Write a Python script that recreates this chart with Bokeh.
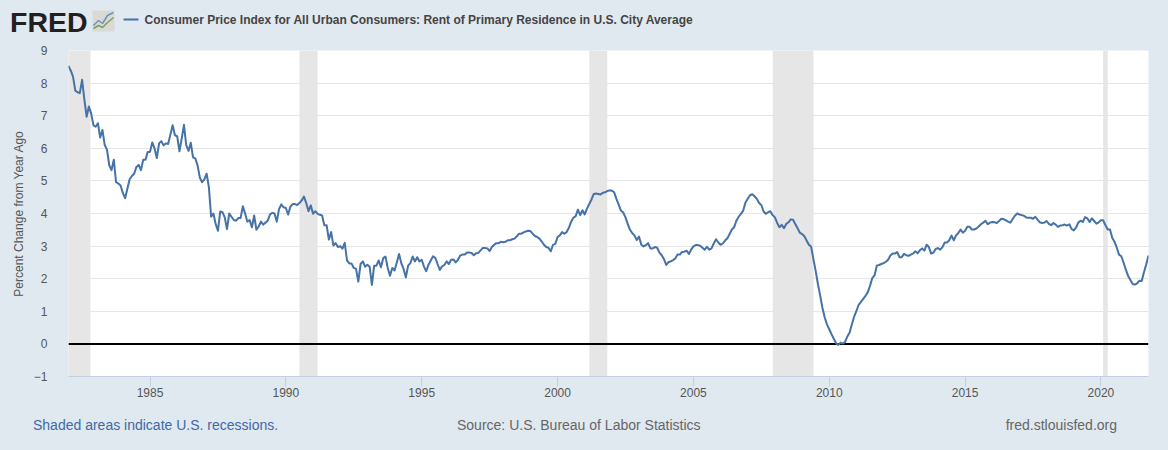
from bokeh.plotting import figure
from bokeh.layouts import column
from bokeh.models import FixedTicker, Range1d, ColumnDataSource
from bokeh.core.properties import value
from bokeh.embed import file_html
from bokeh.resources import INLINE

TITLE = "Consumer Price Index for All Urban Consumers: Rent of Primary Residence in U.S. City Average"
Y_LABEL = "Percent Change from Year Ago"
FOOT_LEFT = "Shaded areas indicate U.S. recessions."
FOOT_MID = "Source: U.S. Bureau of Labor Statistics"
FOOT_RIGHT = "fred.stlouisfed.org"

first_year = 1982
# percent change from year ago, monthly, one row per year
rent_yoy = [
    8.53,8.38,8.20,7.77,7.72,7.69,8.10,7.50,6.97,7.28,7.07,6.71,  # 1982
    6.66,6.77,6.33,6.56,6.10,5.96,5.48,5.33,5.65,4.96,4.92,4.86,  # 1983
    4.63,4.47,4.76,5.05,5.15,5.22,5.43,5.49,5.33,5.65,5.65,5.89,  # 1984
    5.89,6.18,6.00,5.70,6.15,6.22,6.09,6.15,6.13,6.42,6.71,6.40,  # 1985
    6.37,5.91,6.30,6.72,6.10,5.92,6.17,5.72,5.69,5.48,5.10,4.96,  # 1986
    5.05,5.22,4.81,3.90,4.00,3.68,3.47,4.06,4.04,3.88,3.52,4.00,  # 1987
    3.90,3.80,3.78,3.86,3.86,4.22,4.00,3.75,3.80,3.58,3.94,3.50,  # 1988
    3.60,3.75,3.66,3.72,3.78,3.97,4.02,4.00,3.75,4.14,4.28,4.19,  # 1989
    4.17,3.97,4.21,4.29,4.29,4.26,4.32,4.40,4.52,4.32,4.07,4.25,  # 1990
    3.99,4.07,3.99,3.96,3.94,3.64,3.64,3.20,3.43,3.02,3.09,2.97,  # 1991
    3.00,2.92,3.10,2.56,2.47,2.47,2.33,2.30,1.91,2.45,2.53,2.37,  # 1992
    2.43,2.37,1.81,2.40,2.40,2.56,2.35,2.63,2.68,2.33,2.09,2.33,  # 1993
    2.25,2.50,2.76,2.47,2.30,2.04,2.40,2.48,2.68,2.53,2.66,2.53,  # 1994
    2.58,2.37,2.23,2.43,2.56,2.69,2.64,2.45,2.27,2.38,2.42,2.53,  # 1995
    2.45,2.58,2.59,2.50,2.58,2.71,2.74,2.74,2.80,2.80,2.79,2.72,  # 1996
    2.78,2.79,2.87,2.94,2.94,2.93,2.85,2.97,3.04,3.09,3.09,3.13,  # 1997
    3.12,3.13,3.18,3.18,3.21,3.23,3.30,3.38,3.38,3.42,3.45,3.47,  # 1998
    3.46,3.38,3.31,3.28,3.23,3.14,3.04,2.97,2.95,2.84,3.04,3.07,  # 1999
    3.28,3.33,3.43,3.38,3.43,3.56,3.75,3.87,3.92,4.12,3.95,4.10,  # 2000
    3.97,4.15,4.29,4.43,4.60,4.61,4.60,4.58,4.64,4.65,4.69,4.71,  # 2001
    4.70,4.65,4.45,4.27,4.09,4.03,3.88,3.68,3.50,3.40,3.32,3.19,  # 2002
    3.29,3.04,2.99,3.03,3.09,2.93,2.93,2.97,2.95,2.80,2.72,2.60,  # 2003
    2.42,2.51,2.53,2.57,2.62,2.74,2.74,2.82,2.83,2.86,2.76,2.89,  # 2004
    2.99,3.03,3.03,3.01,2.95,2.89,2.98,2.89,2.93,3.08,3.21,3.11,  # 2005
    3.04,3.08,3.17,3.24,3.37,3.51,3.58,3.78,3.90,3.99,4.09,4.34,  # 2006
    4.45,4.56,4.59,4.53,4.45,4.32,4.26,4.06,3.99,4.04,4.07,3.95,  # 2007
    3.88,3.71,3.58,3.65,3.55,3.68,3.73,3.82,3.81,3.68,3.55,3.41,  # 2008
    3.37,3.30,3.17,3.04,2.98,2.60,2.24,1.83,1.48,1.10,0.81,0.60,  # 2009
    0.45,0.30,0.16,0.02,-0.03,0.04,0.01,0.06,0.23,0.35,0.60,0.84, # 2010
    1.01,1.20,1.29,1.38,1.47,1.58,1.78,2.02,2.10,2.40,2.42,2.45,  # 2011
    2.48,2.52,2.58,2.71,2.77,2.77,2.82,2.66,2.66,2.76,2.72,2.70,  # 2012
    2.74,2.77,2.84,2.78,2.87,2.93,2.86,3.04,2.97,2.77,2.80,2.91,  # 2013
    2.94,2.89,2.97,3.11,3.11,3.18,3.32,3.18,3.33,3.40,3.51,3.41,  # 2014
    3.47,3.59,3.59,3.51,3.51,3.54,3.60,3.67,3.72,3.78,3.67,3.72,  # 2015
    3.74,3.73,3.71,3.77,3.84,3.83,3.79,3.75,3.72,3.83,3.93,4.00,  # 2016
    3.97,3.95,3.93,3.88,3.87,3.87,3.84,3.90,3.81,3.73,3.71,3.72,  # 2017
    3.77,3.68,3.64,3.71,3.66,3.59,3.63,3.64,3.66,3.63,3.67,3.53,  # 2018
    3.48,3.57,3.72,3.78,3.74,3.89,3.85,3.74,3.85,3.77,3.69,3.73,  # 2019
    3.79,3.79,3.64,3.51,3.51,3.25,3.13,2.95,2.74,2.69,2.49,2.28,  # 2020
    2.08,1.96,1.84,1.82,1.86,1.94,1.93,2.20,2.44,2.71,           # 2021
]
dates = [first_year + i / 12 for i in range(len(rent_yoy))]

recession_start = [1981.54, 1990.50, 2001.17, 2007.92, 2020.08]
recession_end = [1982.81, 1991.17, 2001.83, 2009.42, 2020.25]
year_ticks = [1985, 1990, 1995, 2000, 2005, 2010, 2015, 2020]
value_ticks = [-1, 0, 1, 2, 3, 4, 5, 6, 7, 8, 9]

BG = "#e1e9f0"
BLUE = "#4572a7"
SANS = "Liberation Sans"
W = 1168


def strip(top, bottom):
    """A band of the page with no axes; its data units are page pixels."""
    f = figure(width=W, height=bottom - top, output_backend="svg", toolbar_location=None,
               x_range=Range1d(0, W), y_range=Range1d(bottom, top),
               x_axis_type=None, y_axis_type=None, frame_align=False,
               min_border_left=0, min_border_right=0,
               min_border_top=0, min_border_bottom=0,
               styles={"background-color": BG})
    f.background_fill_color = BG
    f.border_fill_color = BG
    f.outline_line_color = None
    f.xgrid.visible = False
    f.ygrid.visible = False
    return f


def note(f, x, y, text, size, color, style="normal", align="left"):
    f.text(x=[x], y=[y], text=[text], text_font=value(SANS), text_font_size=size,
           text_color=color, text_font_style=style, text_align=align, text_baseline="middle")


head = strip(0, 36)
note(head, 9.5, 21, "FRED", "28.5px", "#231f20", "bold")
head.quad(left=[92], right=[114], top=[10], bottom=[31], fill_color="#d9d9d6", line_color=None)
head.line([93, 98, 102, 107, 113], [25, 20, 23, 15, 12], line_color="#6f93b8", line_width=1.5)
head.line([93, 98, 102, 107, 113], [28, 25, 27, 22, 17], line_color="#7da05a", line_width=1.5)
head.line([123, 138], [19, 19], line_color=BLUE, line_width=2)
note(head, 144, 19.5, TITLE, "12px", "#444444", "bold")

p = figure(width=W, height=374, output_backend="svg", toolbar_location=None,
           x_range=Range1d(first_year, dates[-1]), y_range=Range1d(-1, 9), frame_align=False,
           min_border_left=68, min_border_right=20, min_border_top=14, min_border_bottom=34,
           styles={"background-color": BG})
p.border_fill_color = BG
p.background_fill_color = "#ffffff"
p.outline_line_color = None

p.xgrid.visible = False
p.ygrid.ticker = FixedTicker(ticks=value_ticks)
p.ygrid.grid_line_color = "#e6e6e6"
p.ygrid.grid_line_width = 1

ax = p.xaxis[0]
ax.ticker = FixedTicker(ticks=year_ticks)
ax.axis_line_color = "#c0d0e0"
ax.major_tick_line_color = "#c0d0e0"
ax.major_tick_in = 0
ax.major_tick_out = 10
ax.minor_tick_line_color = None
ax.major_label_text_font = SANS
ax.major_label_text_font_size = "12px"
ax.major_label_text_color = "#555555"
ax.major_label_standoff = 1

ay = p.yaxis[0]
ay.ticker = FixedTicker(ticks=value_ticks)
ay.axis_line_color = None
ay.major_tick_line_color = None
ay.minor_tick_line_color = None
ay.major_label_text_font = SANS
ay.major_label_text_font_size = "12px"
ay.major_label_text_color = "#555555"
ay.major_label_standoff = 15
ay.axis_label = Y_LABEL
ay.axis_label_text_font = SANS
ay.axis_label_text_font_size = "12px"
ay.axis_label_text_font_style = "normal"
ay.axis_label_text_color = "#555555"
ay.axis_label_standoff = 5

src = ColumnDataSource(dict(left=recession_start, right=recession_end,
                            bottom=[-1] * 5, top=[9] * 5))
p.quad(left="left", right="right", bottom="bottom", top="top", source=src,
       fill_color="#e6e6e6", line_color=None)
p.line([first_year, dates[-1]], [0, 0], line_color="#000000", line_width=2)
p.line(dates, rent_yoy, line_color=BLUE, line_width=2, line_join="round")

foot = strip(410, 450)
note(foot, 32.5, 424.5, FOOT_LEFT, "14px", "#3e6aa5")
note(foot, 456.5, 424.5, FOOT_MID, "14px", "#666666")
note(foot, 1116.5, 424.5, FOOT_RIGHT, "14px", "#666666", align="right")

page = column(head, p, foot, spacing=0, styles={"background-color": BG})
open("out.html", "w").write(file_html(page, INLINE))
